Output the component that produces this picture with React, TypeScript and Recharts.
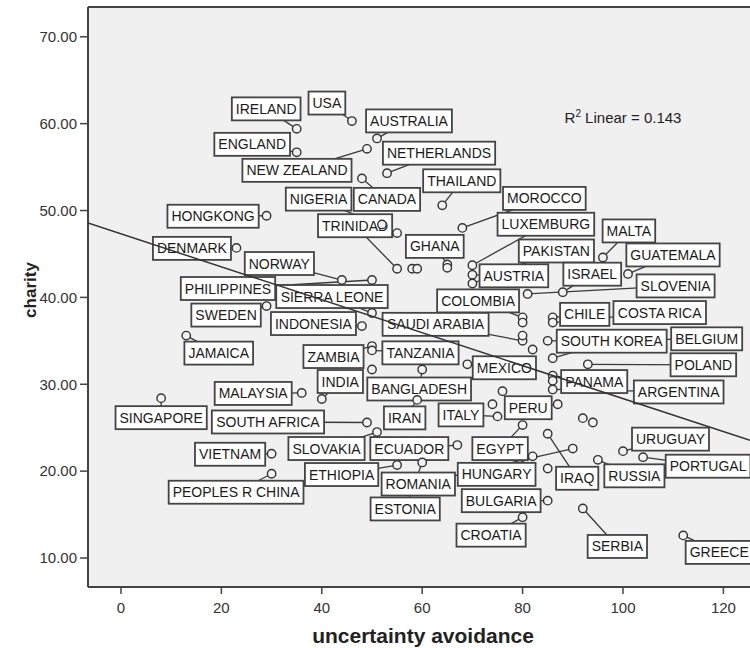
import React from 'react';
import { ScatterChart, Scatter, XAxis, YAxis, CartesianGrid, ReferenceLine } from 'recharts';

// ---- data ----
const countryNames = [
  'IRELAND', 'USA', 'AUSTRALIA', 'ENGLAND', 'NEW ZEALAND', 'NETHERLANDS', 'CANADA', 'THAILAND',
  'NIGERIA', 'TRINIDAD', 'HONGKONG', 'DENMARK', 'NORWAY', 'PHILIPPINES', 'SIERRA LEONE', 'INDONESIA',
  'SWEDEN', 'JAMAICA', 'ZAMBIA', 'TANZANIA', 'INDIA', 'BANGLADESH', 'MALAYSIA', 'SINGAPORE',
  'SOUTH AFRICA', 'IRAN', 'SLOVAKIA', 'ECUADOR', 'ETHIOPIA', 'ESTONIA', 'ROMANIA', 'PEOPLES R CHINA',
  'VIETNAM', 'EGYPT', 'HUNGARY', 'IRAQ', 'BULGARIA', 'CROATIA', 'SERBIA', 'RUSSIA',
  'URUGUAY', 'PORTUGAL', 'GREECE', 'ITALY', 'PERU', 'MEXICO', 'SAUDI ARABIA', 'COLOMBIA',
  'AUSTRIA', 'LUXEMBURG', 'PAKISTAN', 'MOROCCO', 'MALTA', 'GUATEMALA', 'ISRAEL', 'SLOVENIA',
  'CHILE', 'COSTA RICA', 'SOUTH KOREA', 'BELGIUM', 'POLAND', 'PANAMA', 'ARGENTINA', 'GHANA',
];
const uaiValues = [
  35, 46, 51, 35, 49, 53, 48, 64,
  55, 55, 29, 23, 44, 50, 50, 48,
  29, 13, 50, 50, 40, 60, 36, 8,
  49, 59, 51, 67, 55, 60, 90, 30,
  30, 80, 82, 85, 85, 80, 92, 95,
  100, 104, 112, 75, 87, 69, 80, 80,
  70, 70, 70, 68, 96, 101, 88, 81,
  86, 86, 86, 85, 93, 86, 86, 65,
];
const charityValues = [
  59.4, 60.3, 58.3, 56.7, 57.1, 54.3, 53.7, 50.6,
  47.4, 43.3, 49.4, 45.7, 42.0, 42.0, 38.2, 36.7,
  39.0, 35.6, 34.4, 33.9, 28.3, 31.7, 29.0, 28.4,
  25.6, 28.2, 24.5, 23.0, 20.7, 21.0, 22.6, 19.7,
  22.0, 25.3, 21.7, 24.3, 16.6, 14.7, 15.7, 21.3,
  22.3, 21.6, 12.6, 26.3, 27.7, 32.3, 35.0, 37.7,
  42.6, 43.7, 41.6, 48.0, 44.6, 42.7, 40.6, 40.4,
  37.7, 37.1, 33.0, 35.0, 32.3, 31.0, 29.4, 43.8,
];
// unlabeled observations
const otherUai = [52, 58, 59, 65, 50, 82, 80, 80, 86, 76, 74, 92, 94, 85];
const otherCharity = [48.4, 43.3, 43.3, 43.4, 31.7, 34.0, 37.1, 35.6, 30.4, 29.2, 27.7, 26.1, 25.6, 20.3];

// label box placement (pixel offset of box centre from its point)
const labelOffsetX = [
  -30.5, -25, 32, -44.5, -70, 52, 25, 19.5,
  -78.5, -42, -53.5, -44.5, -62.5, -144, -40, -48.5,
  -40.5, 32.5, -38.5, 48.5, 18.5, -3, -48.5, 0,
  -99, -12.5, -50.5, -48, -55.5, -17, -154.5, -35.5,
  -41.5, -22.5, -36, 29.5, -46.5, -31.5, 34.5, 36.5,
  47.5, 65, 36, -36.5, -29.5, 37, -87, -44.5,
  41.5, 73.5, 84, 82, 26, 45, 29.5, 148,
  32, 107, 59, 159, 115.5, 41.5, 126, -12.5,
];
const labelOffsetY = [
  -20, -18, -17.5, -8, 21.5, -20, 21, -24.5,
  -34, -43, 0.5, 0.5, -16.5, 8.5, -16.5, -2.5,
  9, 17.5, 10.5, 2.5, -17.5, 19.5, 0.5, 19.5,
  -0.5, 18, 16.5, 3.5, 9.5, 46.5, 35.5, 18.5,
  0.5, 23.5, 18, 44.5, 0, 18, 38, 16,
  -12, 9, 17, -1.5, 3.5, 3.5, -16.5, -16.5,
  1, -41, -32.5, -29.5, -26.5, -19, -18, -8,
  -3, -10, -17, -2, 0.5, 6, 2.5, -18,
];

const xTicks = [0, 20, 40, 60, 80, 100, 120];
const yTicks = [10, 20, 30, 40, 50, 60, 70];
const fitIntercept = 47.31;
const fitSlope = -0.1896;
const rSquared = 0.143;
const X_DOMAIN: [number, number] = [-6.57, 125.3];
const Y_DOMAIN: [number, number] = [6.66, 73.43];

// ---- derived series ----
const labeledData = countryNames.map((name, i) => ({
  x: uaiValues[i],
  y: charityValues[i],
  name,
  dx: labelOffsetX[i],
  dy: labelOffsetY[i],
}));
const allPoints = [
  ...labeledData.map((d) => ({ x: d.x, y: d.y })),
  ...otherUai.map((x, i) => ({ x, y: otherCharity[i] })),
];
const fitData = X_DOMAIN.map((x) => ({ x, y: fitIntercept + fitSlope * x }));

const FONT = '"Liberation Sans", Arial, sans-serif';

let measureCtx: CanvasRenderingContext2D | null = null;
function textWidth(s: string): number {
  if (typeof document !== 'undefined') {
    if (!measureCtx) {
      const c = document.createElement('canvas');
      measureCtx = c.getContext('2d');
    }
    if (measureCtx) {
      measureCtx.font = '14px "Liberation Sans", Arial, sans-serif';
      return measureCtx.measureText(s).width;
    }
  }
  return s.length * 9;
}

const LeaderShape = (props: any) => {
  const { cx, cy, payload } = props;
  if (cx == null || cy == null) return <g />;
  return (
    <line x1={cx} y1={cy} x2={cx + payload.dx} y2={cy + payload.dy} stroke="#3a3a3a" strokeWidth={1.3} />
  );
};

const BoxShape = (props: any) => {
  const { cx, cy, payload } = props;
  if (cx == null || cy == null) return <g />;
  const w = textWidth(payload.name) + 8;
  const h = 23;
  const bx = cx + payload.dx;
  const by = cy + payload.dy;
  return (
    <g>
      <rect x={bx - w / 2} y={by - h / 2} width={w} height={h} fill="#ffffff" stroke="#444" strokeWidth={1.8} />
      <text x={bx} y={by + 5} textAnchor="middle" fontFamily={FONT} fontSize={14} fill="#1a1a1a">
        {payload.name}
      </text>
    </g>
  );
};

const PointShape = (props: any) => {
  const { cx, cy } = props;
  if (cx == null || cy == null) return <g />;
  return <circle cx={cx} cy={cy} r={4.2} fill="#f2f2f2" stroke="#333" strokeWidth={1.4} />;
};

const NoShape = () => <g />;

export default function App() {
  return (
    <div style={{ position: 'absolute', left: 0, top: 0, width: 750, height: 648, background: '#fff', overflow: 'hidden' }}>
      <ScatterChart width={750} height={648} margin={{ top: 7, right: 0, bottom: 0, left: 8 }}>
        <CartesianGrid fill="#f0f0f0" horizontal={false} vertical={false} stroke="none" />
        <XAxis
          type="number"
          dataKey="x"
          domain={X_DOMAIN}
          allowDataOverflow
          ticks={xTicks}
          height={61}
          tickSize={7}
          tickMargin={8}
          tick={{ fontFamily: FONT, fontSize: 15, fill: '#333' }}
          tickLine={{ stroke: '#444', strokeWidth: 1.5 }}
          axisLine={{ stroke: '#444', strokeWidth: 2 }}
        />
        <YAxis
          type="number"
          dataKey="y"
          domain={Y_DOMAIN}
          allowDataOverflow
          ticks={yTicks}
          width={80}
          tickSize={8}
          tickMargin={3}
          tickFormatter={(v: number) => v.toFixed(2)}
          tick={{ fontFamily: FONT, fontSize: 15, fill: '#333' }}
          tickLine={{ stroke: '#444', strokeWidth: 1.5 }}
          axisLine={{ stroke: '#444', strokeWidth: 2 }}
        />
        <ReferenceLine y={Y_DOMAIN[1]} stroke="#444" strokeWidth={2} />
        <Scatter data={labeledData} shape={LeaderShape} isAnimationActive={false} />
        <Scatter data={labeledData} shape={BoxShape} isAnimationActive={false} />
        <Scatter data={allPoints} shape={PointShape} isAnimationActive={false} />
        <Scatter
          data={fitData}
          shape={NoShape}
          line={{ stroke: '#333', strokeWidth: 1.5 }}
          lineType="joint"
          isAnimationActive={false}
        />
      </ScatterChart>
      <svg width={750} height={648} style={{ position: 'absolute', left: 0, top: 0, pointerEvents: 'none' }}>
        <text x={623} y={123} textAnchor="middle" fontFamily={FONT} fontSize={15} fill="#222">
          R<tspan dy={-6} fontSize={10}>2</tspan>
          <tspan dy={6}>{` Linear = ${rSquared.toFixed(3)}`}</tspan>
        </text>
        <text x={423} y={643} textAnchor="middle" fontFamily={FONT} fontSize={21} fontWeight="bold" fill="#222">
          uncertainty avoidance
        </text>
        <text
          x={0}
          y={0}
          transform="translate(36,290) rotate(-90)"
          textAnchor="middle"
          fontFamily={FONT}
          fontSize={17}
          fontWeight="bold"
          fill="#222"
        >
          charity
        </text>
      </svg>
    </div>
  );
}
